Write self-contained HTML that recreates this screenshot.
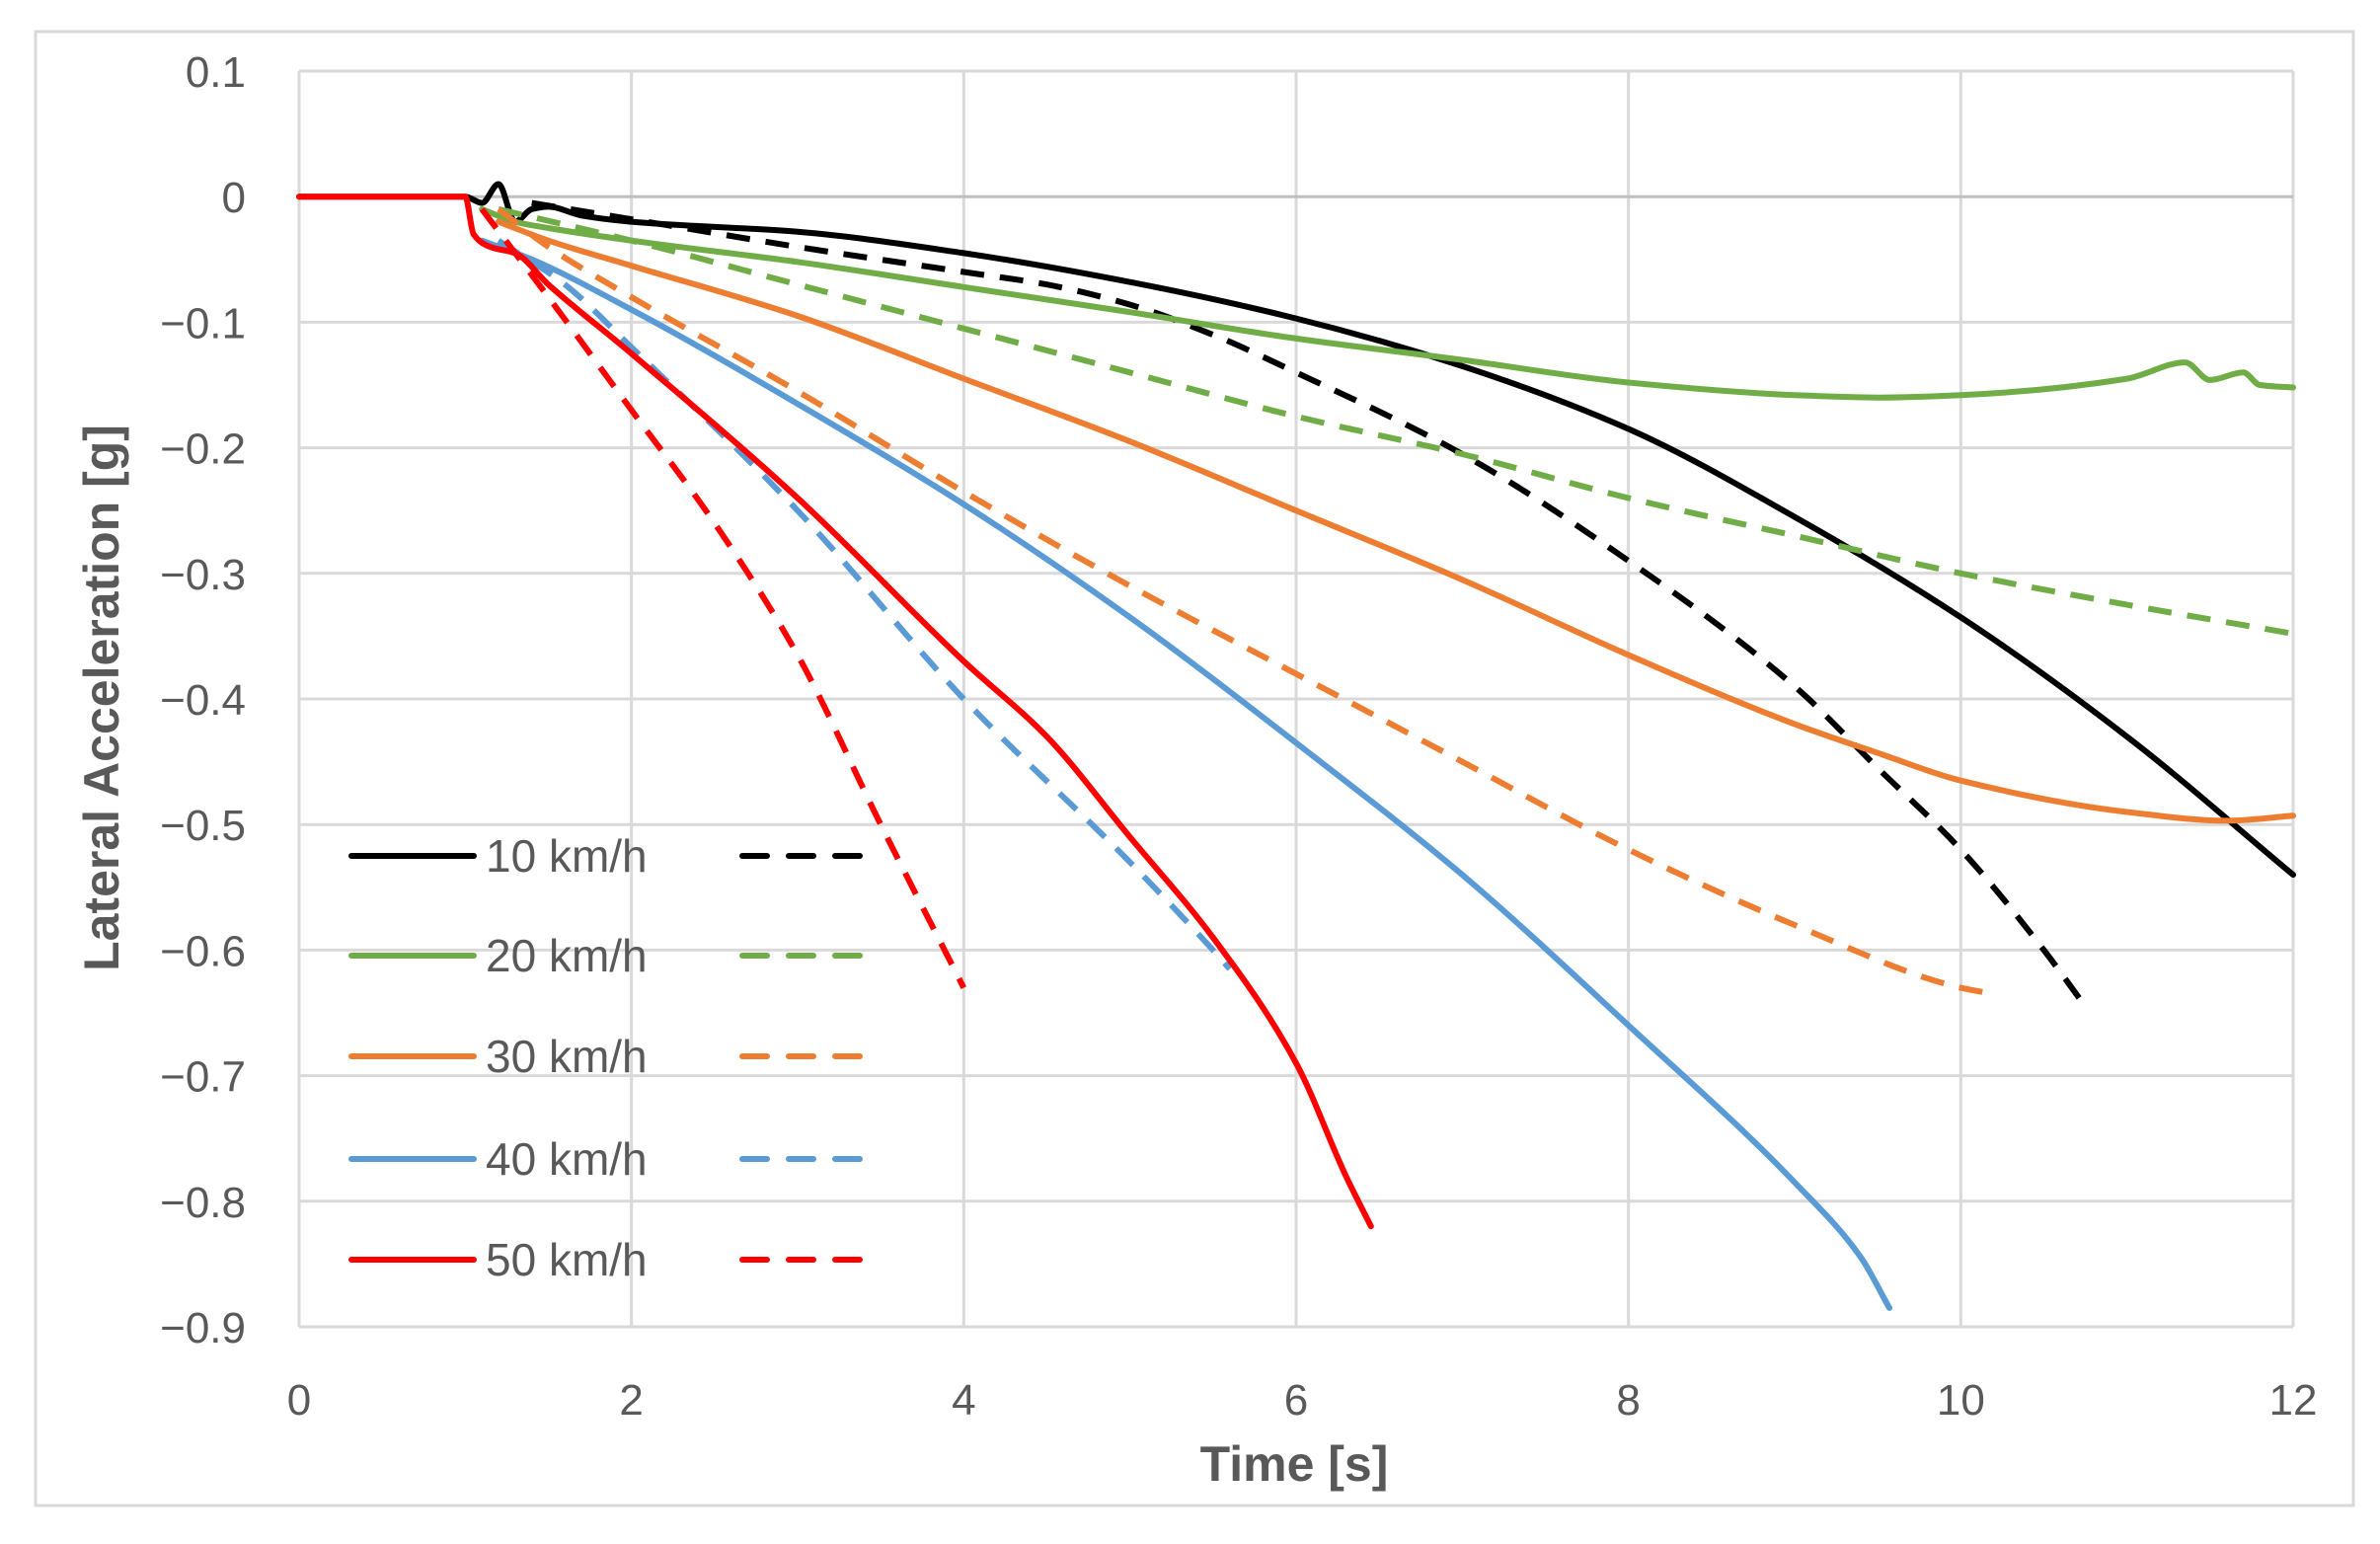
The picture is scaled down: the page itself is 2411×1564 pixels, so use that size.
<!DOCTYPE html>
<html><head><meta charset="utf-8"><style>
html,body{margin:0;padding:0;background:#fff;}
svg{display:block;}
text{font-family:"Liberation Sans",sans-serif;}
</style></head><body>
<svg id="chart" width="2411" height="1564" viewBox="0 0 2411 1564">
<rect x="36" y="32" width="2348" height="1493" fill="#fff" stroke="#d9d9d9" stroke-width="3"/>
<g id="grid"></g>
<g id="ticks"></g>
<g id="series"></g>
<g id="legend"></g>
<text x="1311" y="1500" text-anchor="middle" font-size="50" font-weight="bold" fill="#595959">Time [s]</text>
<text x="0" y="0" transform="translate(120,707) rotate(-90)" text-anchor="middle" font-size="50" font-weight="bold" fill="#595959">Lateral Acceleration [g]</text>
</svg>
<script>
const xTicks=[0,2,4,6,8,10,12];
const yTicks=[0.1,0,-0.1,-0.2,-0.3,-0.4,-0.5,-0.6,-0.7,-0.8,-0.9];
const yTickLabels=["0.1","0","\u22120.1","\u22120.2","\u22120.3","\u22120.4","\u22120.5","\u22120.6","\u22120.7","\u22120.8","\u22120.9"];
const seriesNames=["10 km/h","20 km/h","30 km/h","40 km/h","50 km/h"];
const seriesColors=["#000000","#70ad47","#ed7d31","#5b9bd5","#ff0000"];
const s10T=[0,1.0,1.1,1.2,1.3,1.4,1.5,1.7,2,3,4,5,6,7,8,9,10,11,12];
const s10V=[0,0,-0.005,0.01,-0.02,-0.01,-0.008,-0.015,-0.02,-0.028,-0.045,-0.068,-0.097,-0.135,-0.185,-0.255,-0.335,-0.43,-0.54];
const d10T=[1.4,2,3,4,4.5,5,5.5,6,7,8,9,9.5,10,10.5,10.75];
const d10V=[-0.005,-0.018,-0.04,-0.06,-0.07,-0.086,-0.11,-0.14,-0.205,-0.29,-0.39,-0.455,-0.52,-0.6,-0.645];
const s20T=[1.1,1.3,1.5,2,3,4,5,6,7,8,9,9.5,10,11,11.35,11.5,11.7,11.8,12];
const s20V=[-0.01,-0.02,-0.025,-0.035,-0.052,-0.072,-0.092,-0.113,-0.13,-0.148,-0.158,-0.16,-0.158,-0.145,-0.132,-0.146,-0.14,-0.15,-0.152];
const d20T=[1.2,2,3,4,5,6,7,8,9,10,11,12];
const d20V=[-0.01,-0.035,-0.07,-0.105,-0.14,-0.175,-0.205,-0.24,-0.27,-0.3,-0.325,-0.348];
const s30T=[1.2,1.5,2,3,4,5,6,7,8,9,9.5,10,11,11.6,12];
const s30V=[-0.02,-0.035,-0.055,-0.095,-0.145,-0.195,-0.25,-0.305,-0.365,-0.42,-0.443,-0.465,-0.49,-0.497,-0.493];
const d30T=[1.2,1.5,2,3,4,5,6,7,8,9,10,10.2];
const d30V=[-0.01,-0.04,-0.08,-0.155,-0.235,-0.31,-0.38,-0.45,-0.52,-0.58,-0.63,-0.635];
const s40T=[1.1,1.4,2,3,4,5,6,7,8,9,9.4,9.57];
const s40V=[-0.035,-0.05,-0.09,-0.165,-0.245,-0.335,-0.435,-0.54,-0.66,-0.785,-0.845,-0.885];
const d40T=[1.2,1.6,2,3,4,5,5.5,5.6];
const d40V=[-0.035,-0.07,-0.12,-0.25,-0.4,-0.53,-0.6,-0.615];
const s50T=[0,1.0,1.05,1.15,1.3,1.5,2,3,4,4.5,5,5.5,6,6.3,6.45];
const s50V=[0,0,-0.03,-0.04,-0.045,-0.07,-0.125,-0.24,-0.37,-0.43,-0.51,-0.59,-0.69,-0.78,-0.82];
const d50T=[1.1,1.5,2,2.5,3,3.5,4];
const d50V=[-0.01,-0.08,-0.17,-0.26,-0.365,-0.5,-0.63];

const NS="http://www.w3.org/2000/svg";
const L=303,R=2323,T=72,B=1344;
const xS=v=>L+(v-0)/(12-0)*(R-L);
const yS=v=>T+(0.1-v)/(0.1+0.9)*(B-T);
function mk(tag,attrs,parent){const e=document.createElementNS(NS,tag);for(const k in attrs)e.setAttribute(k,attrs[k]);parent.appendChild(e);return e;}
// monotone cubic (Fritsch-Carlson) - no overshoot
function monoPath(pts){
  const n=pts.length;
  if(n<3)return 'M'+pts.map(p=>p[0].toFixed(1)+','+p[1].toFixed(1)).join(' L');
  const dx=[],s=[];
  for(let i=0;i<n-1;i++){dx[i]=pts[i+1][0]-pts[i][0];s[i]=(pts[i+1][1]-pts[i][1])/dx[i];}
  const m=[s[0]];
  for(let i=1;i<n-1;i++){
    if(s[i-1]*s[i]<=0)m[i]=0;
    else{const w1=2*dx[i]+dx[i-1],w2=dx[i]+2*dx[i-1];m[i]=(w1+w2)/(w1/s[i-1]+w2/s[i]);}
  }
  m[n-1]=s[n-2];
  let d='M'+pts[0][0].toFixed(1)+','+pts[0][1].toFixed(1);
  for(let i=0;i<n-1;i++){
    const h=dx[i]/3;
    d+=' C'+(pts[i][0]+h).toFixed(1)+','+(pts[i][1]+m[i]*h).toFixed(1)+' '+(pts[i+1][0]-h).toFixed(1)+','+(pts[i+1][1]-m[i+1]*h).toFixed(1)+' '+pts[i+1][0].toFixed(1)+','+pts[i+1][1].toFixed(1);
  }
  return d;
}
const grid=document.getElementById('grid'),ticks=document.getElementById('ticks'),series=document.getElementById('series'),legend=document.getElementById('legend');
xTicks.forEach((t,i)=>{
  const l=mk('line',{x1:xS(t),x2:xS(t),y1:T,y2:B,stroke:'#d9d9d9','stroke-width':3},grid);
  
  
  const tx=mk('text',{x:xS(t),y:1433,'text-anchor':'middle','font-size':44,fill:'#595959'},ticks);
  tx.textContent=String(t);
  
  
});
yTicks.forEach((v,i)=>{
  const l=mk('line',{x1:L,x2:R,y1:yS(v),y2:yS(v),stroke:v===0?'#bfbfbf':'#d9d9d9','stroke-width':3},grid);
  
  
  const tx=mk('text',{x:249,y:yS(v)+16,'text-anchor':'end','font-size':44,fill:'#595959'},ticks);
  tx.textContent=yTickLabels[i];
  
  
});
const all=[[s10T,s10V,0,false],[d10T,d10V,0,true],[s20T,s20V,1,false],[d20T,d20V,1,true],[s30T,s30V,2,false],[d30T,d30V,2,true],[d40T,d40V,3,true],[s40T,s40V,3,false],[d50T,d50V,4,true],[s50T,s50V,4,false]];
all.forEach(([ts,vs,ci,dash])=>{
  const pts=ts.map((t,i)=>[xS(t),yS(vs[i])]);
  const p=mk('path',{d:monoPath(pts),fill:'none',stroke:seriesColors[ci],'stroke-width':6,'stroke-linejoin':'round','stroke-linecap':dash?'butt':'round'},series);
  if(dash)p.setAttribute('stroke-dasharray','24 16');
  
  
});
const legY=[867,968,1070,1174,1276];
seriesNames.forEach((n,i)=>{
  const a=mk('line',{x1:356,x2:480,y1:legY[i],y2:legY[i],stroke:seriesColors[i],'stroke-width':6,'stroke-linecap':'round'},legend);
  
  
  const tx=mk('text',{x:492,y:legY[i]+16,'font-size':46,fill:'#595959'},legend);
  tx.textContent=n;
  
  
  const b=mk('line',{x1:752,x2:873,y1:legY[i],y2:legY[i],stroke:seriesColors[i],'stroke-width':6,'stroke-dasharray':'25 22','stroke-linecap':'round'},legend);
  
  
});
</script>
</body></html>
